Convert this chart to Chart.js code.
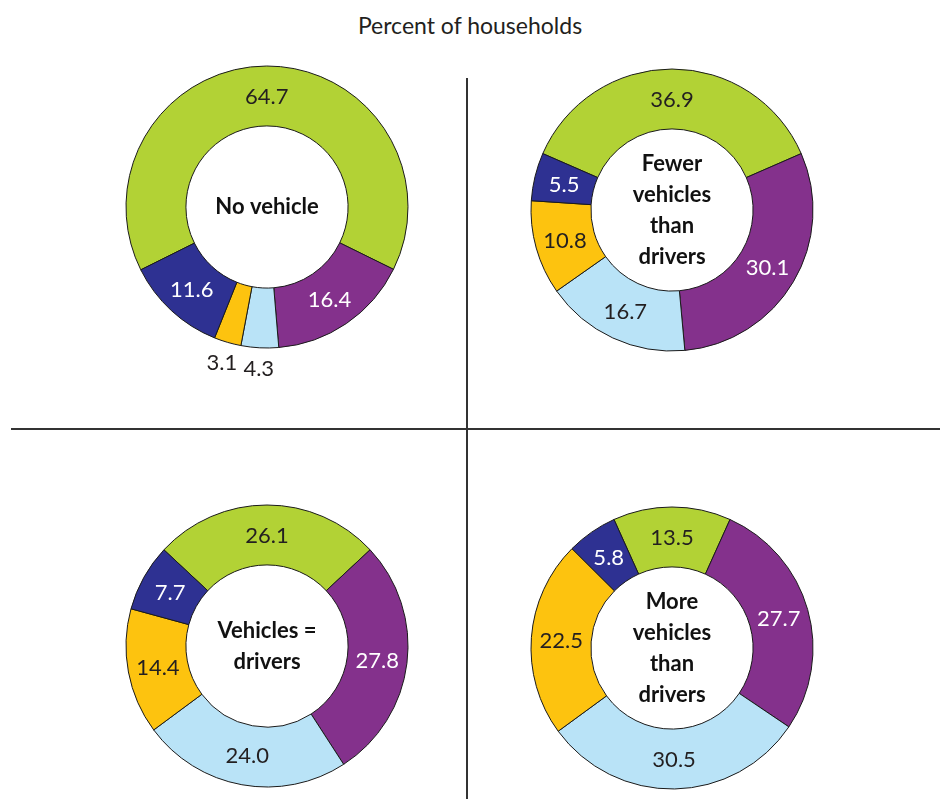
<!DOCTYPE html>
<html>
<head>
<meta charset="utf-8">
<script src="https://cdn.jsdelivr.net/npm/chart.js@4"></script>
<style>
  body{margin:0;background:#fff;font-family:Lato,"Open Sans",sans-serif;}
  #wrap{position:relative;width:940px;height:799px;overflow:hidden;}
  #title{position:absolute;left:0;width:940px;top:11px;text-align:center;font-size:23px;color:#231f20;}
  .vline{position:absolute;left:466px;top:78px;width:2px;height:721px;background:#333;}
  .hline{position:absolute;left:11px;top:428px;width:929px;height:2px;background:#333;}
  canvas{position:absolute;}
</style>
</head>
<body>
<div id="wrap">
  <div id="title">Percent of households</div>
  <div class="vline"></div>
  <div class="hline"></div>
  <canvas id="c1" width="380" height="380"></canvas>
  <canvas id="c2" width="380" height="380"></canvas>
  <canvas id="c3" width="380" height="380"></canvas>
  <canvas id="c4" width="380" height="380"></canvas>
</div>
<script>
// segment order: green, purple, light blue, yellow, dark blue
const segmentColors = ["#b2d235","#84318c","#b9e3f7","#fdc30f","#2e3192"];
const labelColors = ["#231f20","#ffffff","#231f20","#231f20","#ffffff"];

const noVehicle = [64.7, 16.4, 4.3, 3.1, 11.6];
const fewerVehicles = [36.9, 30.1, 16.7, 10.8, 5.5];
const equalVehicles = [26.1, 27.8, 24.0, 14.4, 7.7];
const moreVehicles = [13.5, 27.7, 30.5, 22.5, 5.8];

const centerTitles = [
  ["No vehicle"],
  ["Fewer","vehicles","than","drivers"],
  ["Vehicles =","drivers"],
  ["More","vehicles","than","drivers"]
];

const charts = [
  {id:"c1", data:noVehicle, cx:267, cy:207},
  {id:"c2", data:fewerVehicles, cx:672, cy:210},
  {id:"c3", data:equalVehicles, cx:267, cy:646},
  {id:"c4", data:moreVehicles, cx:672, cy:648}
];

// --- value labels on each arc ---
const valueLabels = {
  id:"valueLabels",
  afterDatasetsDraw(chart){
    const ctx = chart.ctx;
    const meta = chart.getDatasetMeta(0);
    const values = chart.data.datasets[0].data;
    ctx.save();
    ctx.font = "22px Lato";
    ctx.textAlign = "center";
    ctx.textBaseline = "middle";
    meta.data.forEach((arc, i)=>{
      const p = arc.getProps(["x","y","startAngle","endAngle","outerRadius","innerRadius"], true);
      const mid = (p.startAngle + p.endAngle)/2;
      let r = (p.outerRadius + p.innerRadius)/2;
      let color = labelColors[i];
      if(values[i] < 5){ r = p.outerRadius + 20; color = "#231f20"; }
      ctx.fillStyle = color;
      ctx.fillText(values[i].toFixed(1), p.x + Math.cos(mid)*r, p.y + Math.sin(mid)*r + 1);
    });
    ctx.restore();
  }
};

// --- bold text in the hole ---
const centerText = {
  id:"centerText",
  afterDraw(chart, args, opts){
    const ctx = chart.ctx;
    const arc = chart.getDatasetMeta(0).data[0];
    const lines = opts.lines || [];
    const lh = 31;
    ctx.save();
    ctx.font = "bold 22px Lato";
    ctx.fillStyle = "#111";
    ctx.textAlign = "center";
    ctx.textBaseline = "middle";
    const top = arc.y - (lines.length-1)*lh/2;
    lines.forEach((t, k)=> ctx.fillText(t, arc.x, top + k*lh));
    ctx.restore();
  }
};

charts.forEach((c, n)=>{
  const el = document.getElementById(c.id);
  el.style.left = (c.cx - 190) + "px";
  el.style.top = (c.cy - 190) + "px";
  new Chart(el.getContext("2d"), {
    type:"doughnut",
    data:{
      labels:["green","purple","lightblue","yellow","darkblue"],
      datasets:[{
        data:c.data,
        backgroundColor:segmentColors,
        borderColor:"#1a1a1a",
        borderWidth:1,
        hoverOffset:0
      }]
    },
    options:{
      responsive:false,
      animation:false,
      radius:141,
      cutout:"57.5%",
      rotation:-c.data[0]*3.6/2,
      layout:{padding:0},
      events:[],
      plugins:{
        legend:{display:false},
        tooltip:{enabled:false},
        centerText:{lines:centerTitles[n]}
      }
    },
    plugins:[valueLabels, centerText]
  });
});
</script>
</body>
</html>
